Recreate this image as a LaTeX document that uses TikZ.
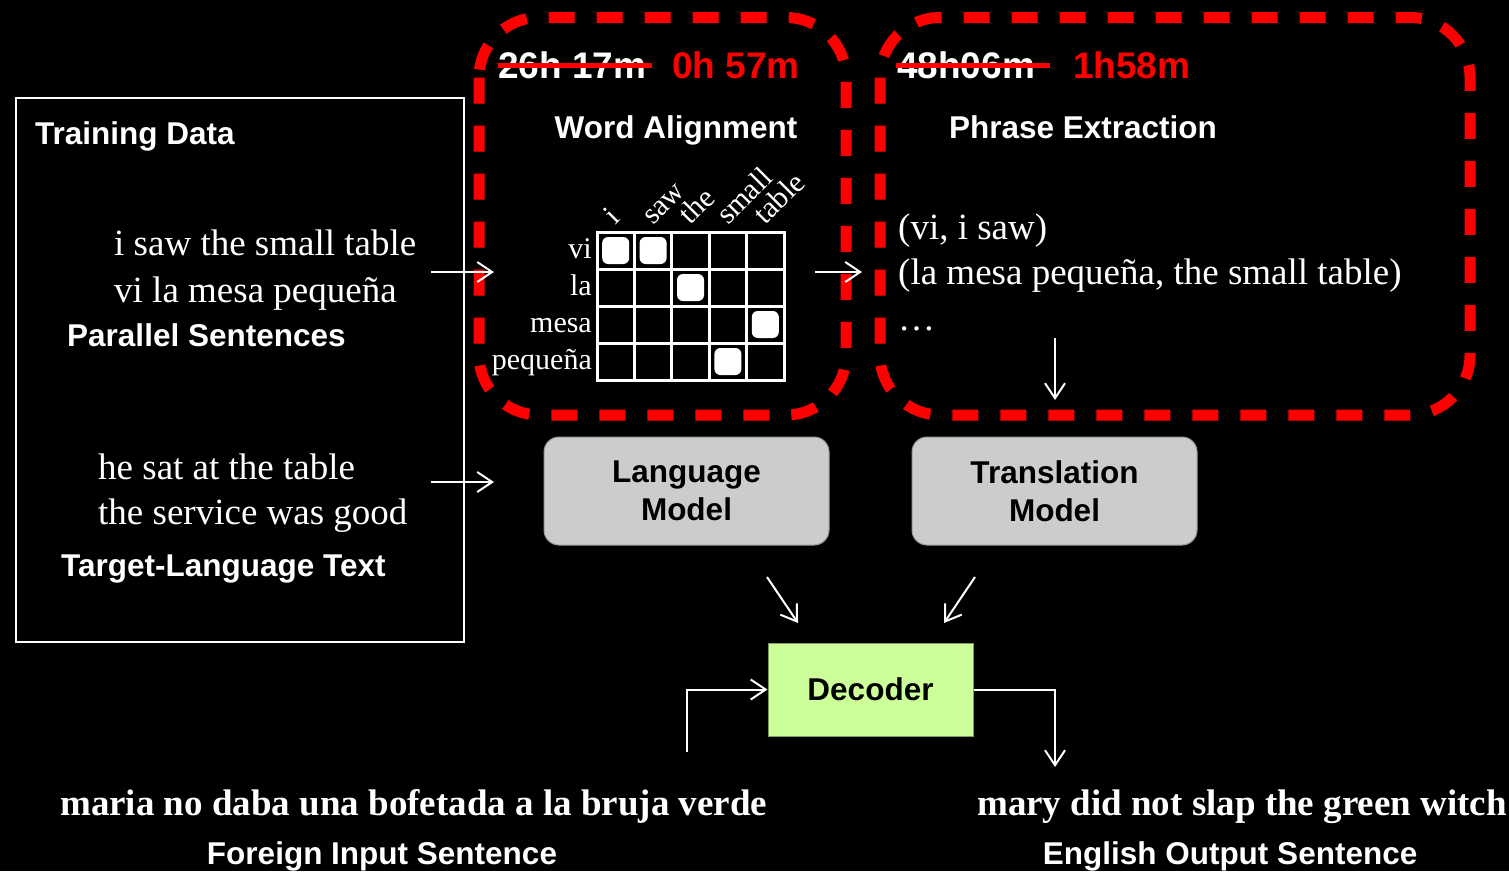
\documentclass[tikz,border=0pt]{standalone}
\usepackage{fontspec}
\setmainfont{Liberation Serif}
\setsansfont{Liberation Sans}
\usetikzlibrary{arrows.meta}
\definecolor{lmgray}{HTML}{CCCCCC}
\definecolor{decgreen}{HTML}{CCFF99}
\definecolor{myred}{HTML}{FF0000}
\definecolor{decborder}{HTML}{7E9A62}
\begin{document}
\begin{tikzpicture}[x=1pt,y=-1pt,
  lab/.style={font=\sffamily\bfseries\fontsize{31.5}{38}\selectfont,text=white,inner sep=0pt},
  timelab/.style={font=\sffamily\bfseries\fontsize{37}{42}\selectfont,inner sep=0pt},
  ser/.style={font=\fontsize{37}{42}\selectfont,text=white,inner sep=0pt},
  serbold/.style={font=\bfseries\fontsize{37}{42}\selectfont,text=white,inner sep=0pt},
  mlab/.style={font=\fontsize{30}{34}\selectfont,text=white,inner sep=0pt},
  redbox/.style={draw=myred,line width=11pt,dash pattern=on 26pt off 22pt,rounded corners=60pt},
  strike/.style={draw=myred,line width=5pt},
  gridline/.style={draw=white,line width=3pt,line cap=rect},
  cellmark/.style={fill=white,rounded corners=6pt,minimum size=27pt,inner sep=0pt},
  model/.style={draw=gray!80,line width=1pt,fill=lmgray,rounded corners=15pt,minimum width=285pt,minimum height=108pt,align=center,font=\sffamily\bfseries\fontsize{31.5}{38}\selectfont,text=black,inner sep=0pt},
  decoder/.style={draw=decborder,line width=1pt,fill=decgreen,minimum width=205pt,minimum height=93pt,font=\sffamily\bfseries\fontsize{31.5}{38}\selectfont,text=black,inner sep=0pt},
  conn/.style={draw=white,line width=2pt,-{Straight Barb[length=15pt,width=20pt,line width=2pt]}}
]
\fill[black] (0,0) rectangle (1509,871);
\useasboundingbox (0,0) rectangle (1509,871);

% Training data box
\node[draw=white,line width=2pt,minimum width=448pt,minimum height=544pt,anchor=north west,inner sep=0pt] (train) at (15,97) {};
\node[lab,anchor=base west] (tdlab) at (35,144) {Training Data};
\node[ser,anchor=base west] (s1) at (114,255) {i saw the small table};
\node[ser,anchor=base west] (s2) at (114,302) {vi la mesa pequeña};
\node[lab,anchor=base west] (pslab) at (67,346) {Parallel Sentences};
\node[ser,anchor=base west] (t1) at (98,479) {he sat at the table};
\node[ser,anchor=base west] (t2) at (98,524) {the service was good};
\node[lab,anchor=base west] (tltlab) at (61,576) {Target-Language Text};

% red dashed boxes
\draw[redbox] (479,17.5) rectangle (846,415);
\draw[redbox] (880,17.5) rectangle (1470,415);

% timings
\node[timelab,text=white,anchor=base west] (old1) at (498,78) {26h 17m};
\draw[strike] (498,65.5) -- (652,65.5);
\node[timelab,text=myred,anchor=base west] (new1) at (672,78) {0h 57m};
\node[timelab,text=white,anchor=base west] (old2) at (897,78) {48h06m};
\draw[strike] (896,65.5) -- (1050,65.5);
\node[timelab,text=myred,anchor=base west] (new2) at (1073,78) {1h58m};

\node[lab,anchor=base] (walab) at (676,138) {Word Alignment};
\node[lab,anchor=base] (pelab) at (1083,138) {Phrase Extraction};

% alignment grid
\foreach \i in {0,...,5} \draw[gridline] (597+\i*37.4,232) -- (597+\i*37.4,380);
\foreach \j in {0,...,4} \draw[gridline] (597,232+\j*37) -- (784,232+\j*37);
\foreach \w [count=\k from 0] in {i,saw,the,small,table}
  \node[mlab,anchor=base west,rotate=45] (col\k) at (597+\k*37.4+18.7,226) {\w};
\foreach \w [count=\r from 0] in {vi,la,mesa,pequeña}
  \node[mlab,anchor=base east] (row\r) at (592,232+\r*37+18.5+7.5) {\w};
\node[cellmark] (m1) at (597+0*37.4+18.7,232+0*37+18.5) {};
\node[cellmark] (m2) at (597+1*37.4+18.7,232+0*37+18.5) {};
\node[cellmark] (m3) at (597+2*37.4+18.7,232+1*37+18.5) {};
\node[cellmark] (m4) at (597+4*37.4+18.7,232+2*37+18.5) {};
\node[cellmark] (m5) at (597+3*37.4+18.7,232+3*37+18.5) {};

% phrases
\node[ser,anchor=base west] (p1) at (898,239) {(vi, i saw)};
\node[ser,anchor=base west] (p2) at (898,284) {(la mesa pequeña, the small table)};
\node[ser,anchor=base west] (p3) at (898,330) {\dots};

% models
\node[model] (lm) at (686.5,491) {Language\\Model};
\node[model] (tm) at (1054.5,491) {Translation\\Model};
\node[decoder] (dec) at (870.5,689.5) {Decoder};

% bottom sentences
\node[serbold,anchor=base west] (fin) at (60,815) {maria no daba una bofetada a la bruja verde};
\node[lab,anchor=base] (finlab) at (382,864) {Foreign Input Sentence};
\node[serbold,anchor=base west] (eout) at (977,815) {mary did not slap the green witch};
\node[lab,anchor=base] (eoutlab) at (1230,864) {English Output Sentence};

% connector end points
\coordinate (a1s) at (431,272);
\coordinate (a1e) at (494,272);
\coordinate (a2s) at (431,482);
\coordinate (a2e) at (494,482);
\coordinate (a3s) at (815,272);
\coordinate (a3e) at (862,272);
\coordinate (a4s) at (1055,338);
\coordinate (a4e) at (1055,400);
\coordinate (a5s) at (767,577);
\coordinate (a5e) at (798,623);
\coordinate (a6s) at (975,577);
\coordinate (a6e) at (944,623);
\coordinate (inS) at (687,752);
\coordinate (outE) at (1055,767);

\draw[conn] (a1s) -- (a1e);
\draw[conn] (a2s) -- (a2e);
\draw[conn] (a3s) -- (a3e);
\draw[conn] (a4s) -- (a4e);
\draw[conn] (a5s) -- (a5e);
\draw[conn] (a6s) -- (a6e);
\draw[conn] (inS) |- (dec.west);
\draw[conn] (dec.east) -| (outE);
\end{tikzpicture}
\end{document}
